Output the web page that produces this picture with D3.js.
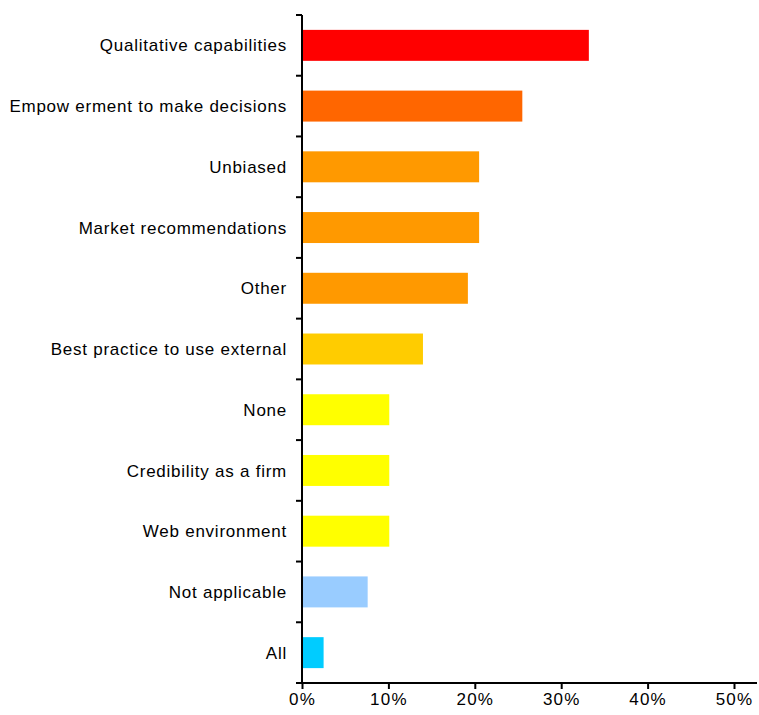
<!DOCTYPE html>
<html>
<head>
<meta charset="utf-8">
<script src="https://cdn.jsdelivr.net/npm/d3@7"></script>
<style>
  body { margin: 0; background: #fff; }
  text { font-family: "Liberation Sans", Arial, sans-serif; fill: #000; }
</style>
</head>
<body>
<script>
  // categories, top to bottom
  var categories = [
    "Qualitative capabilities",
    "Empow erment to make decisions",
    "Unbiased",
    "Market recommendations",
    "Other",
    "Best practice to use external",
    "None",
    "Credibility as a firm",
    "Web environment",
    "Not applicable",
    "All"
  ];
  var values = [33.2, 25.5, 20.5, 20.5, 19.2, 14.0, 10.1, 10.1, 10.1, 7.6, 2.5];
  var colors = ["#ff0000", "#ff6600", "#ff9900", "#ff9900", "#ff9900", "#ffcc00",
                "#ffff00", "#ffff00", "#ffff00", "#99ccff", "#00ccff"];
  var tickValues = [0, 10, 20, 30, 40, 50];

  var width = 759, height = 715;
  var x0 = 302, yTop = 15, yBottom = 683;

  var x = d3.scaleLinear().domain([0, 50]).range([x0, 734]);
  var y = d3.scaleBand().domain(categories).range([yTop, yBottom]).paddingInner(0.49).paddingOuter(0.245);

  var svg = d3.select("body").append("svg")
    .attr("width", width)
    .attr("height", height);

  // bars
  svg.selectAll("rect.bar")
    .data(categories)
    .enter().append("rect")
    .attr("class", "bar")
    .attr("x", x(0))
    .attr("y", function (d) { return y(d); })
    .attr("width", function (d, i) { return x(values[i]) - x(0); })
    .attr("height", y.bandwidth())
    .attr("fill", function (d, i) { return colors[i]; });

  // y axis line + ticks at category boundaries
  var step = (yBottom - yTop) / categories.length;
  svg.append("line")
    .attr("x1", x0).attr("x2", x0)
    .attr("y1", yTop).attr("y2", yBottom)
    .attr("stroke", "#000").attr("stroke-width", 2);
  d3.range(categories.length + 1).forEach(function (i) {
    svg.append("line")
      .attr("x1", x0 - 6).attr("x2", x0)
      .attr("y1", yTop + i * step).attr("y2", yTop + i * step)
      .attr("stroke", "#000").attr("stroke-width", 2);
  });

  // category labels
  svg.selectAll("text.cat")
    .data(categories)
    .enter().append("text")
    .attr("class", "cat")
    .attr("x", 287)
    .attr("y", function (d) { return y(d) + y.bandwidth() / 2; })
    .attr("dy", "0.36em")
    .attr("text-anchor", "end")
    .style("font-size", "17px")
    .style("letter-spacing", "0.75px")
    .text(function (d) { return d; });

  // x axis
  var xAxis = d3.axisBottom(x)
    .tickValues(tickValues)
    .tickSize(6)
    .tickFormat(function (d) { return d + "%"; });

  var gx = svg.append("g")
    .attr("transform", "translate(0," + yBottom + ")")
    .call(xAxis);
  gx.select(".domain").remove();
  gx.append("line")
    .attr("x1", x0 - 6).attr("x2", 757)
    .attr("stroke", "#000").attr("stroke-width", 2);
  gx.selectAll(".tick line").attr("stroke", "#000").attr("stroke-width", 2);
  gx.selectAll(".tick text")
    .attr("y", 10)
    .attr("dy", "0.71em")
    .attr("font-family", null)
    .attr("font-size", null)
    .style("font-size", "17px")
    .style("letter-spacing", "1.2px");
  svg.attr("font-family", null);
</script>
</body>
</html>
